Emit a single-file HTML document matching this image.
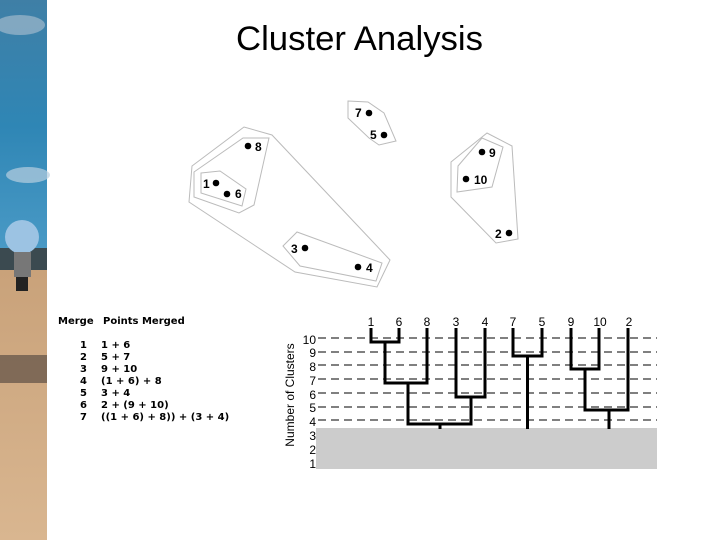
<!DOCTYPE html>
<html><head><meta charset="utf-8"><style>
html,body{margin:0;padding:0;background:#fff;}
svg{display:block;}
</style></head><body>
<svg width="720" height="540" viewBox="0 0 720 540" xmlns="http://www.w3.org/2000/svg" font-family="Liberation Sans, sans-serif">
<defs>
<linearGradient id="sky" x1="0" y1="0" x2="0" y2="1">
<stop offset="0" stop-color="#3f7fa6"/><stop offset="0.5" stop-color="#2f86b5"/><stop offset="1" stop-color="#4a9ac6"/>
</linearGradient>
<linearGradient id="sand" x1="0" y1="0" x2="0" y2="1">
<stop offset="0" stop-color="#c9a27a"/><stop offset="1" stop-color="#d9b690"/>
</linearGradient>
</defs>
<rect x="0" y="0" width="47" height="252" fill="url(#sky)"/>
<ellipse cx="20" cy="25" rx="25" ry="10" fill="#9fb9cc" opacity="0.7"/>
<ellipse cx="28" cy="175" rx="22" ry="8" fill="#b8cfe0" opacity="0.7"/>
<rect x="0" y="248" width="47" height="22" fill="#3b4a50"/>
<rect x="0" y="270" width="47" height="270" fill="url(#sand)"/>
<rect x="0" y="355" width="47" height="28" fill="#6b5a4c" opacity="0.8"/>
<circle cx="22" cy="237" r="17" fill="#9cc3e3"/>
<rect x="14" y="252" width="17" height="25" fill="#777"/>
<rect x="16" y="277" width="12" height="14" fill="#222"/>

<text x="236" y="50" font-size="34" textLength="247" lengthAdjust="spacingAndGlyphs">Cluster Analysis</text>

<g fill="none" stroke="#bbb" stroke-width="1">
<polygon points="348,101 368,102 384,113 396,141 379,145 369,138 348,118"/>
<polygon points="201,173 220,171 246,189 242,206 201,193"/>
<polygon points="194,172 243,138 269,138 254,205 239,213 194,197"/>
<polygon points="192,166 244,127 272,135 390,260 377,287 295,272 189,202"/>
<polygon points="283,246 297,232 382,263 376,281 300,266"/>
<polygon points="458,166 482,138 503,147 492,187 457,192"/>
<polygon points="451,162 487,133 512,146 518,239 496,243 451,197"/>
</g>
<g fill="#000">
<circle cx="369" cy="113" r="3.3"/><circle cx="384" cy="135" r="3.3"/>
<circle cx="248" cy="146" r="3.3"/><circle cx="216" cy="183" r="3.3"/>
<circle cx="227" cy="194" r="3.3"/><circle cx="482" cy="152" r="3.3"/>
<circle cx="466" cy="179" r="3.3"/><circle cx="509" cy="233" r="3.3"/>
<circle cx="305" cy="248" r="3.3"/><circle cx="358" cy="267" r="3.3"/>
</g>
<g font-size="12" font-weight="bold" fill="#000">
<text x="355" y="117">7</text><text x="370" y="139">5</text>
<text x="255" y="151">8</text><text x="203" y="188">1</text>
<text x="235" y="198">6</text><text x="489" y="157">9</text>
<text x="474" y="184">10</text><text x="495" y="238">2</text>
<text x="291" y="253">3</text><text x="366" y="272">4</text>
</g>

<g font-size="10" font-weight="bold" font-family="DejaVu Sans, sans-serif" fill="#000">
<text x="58" y="324">Merge</text><text x="103" y="324">Points Merged</text>
<text x="80" y="348">1</text><text x="101" y="348">1 + 6</text>
<text x="80" y="360">2</text><text x="101" y="360">5 + 7</text>
<text x="80" y="372">3</text><text x="101" y="372">9 + 10</text>
<text x="80" y="384">4</text><text x="101" y="384">(1 + 6) + 8</text>
<text x="80" y="396">5</text><text x="101" y="396">3 + 4</text>
<text x="80" y="408">6</text><text x="101" y="408">2 + (9 + 10)</text>
<text x="80" y="420">7</text><text x="101" y="420">((1 + 6) + 8)) + (3 + 4)</text>
</g>

<rect x="316" y="428" width="341" height="41" fill="#cccccc"/>
<g stroke="#000" stroke-width="1" stroke-dasharray="8,5">
<line x1="318" y1="338" x2="657" y2="338"/><line x1="318" y1="352" x2="657" y2="352"/>
<line x1="318" y1="365" x2="657" y2="365"/><line x1="318" y1="379" x2="657" y2="379"/>
<line x1="318" y1="393" x2="657" y2="393"/><line x1="318" y1="407" x2="657" y2="407"/>
<line x1="318" y1="420" x2="657" y2="420"/>
</g>
<g font-size="12" fill="#000" text-anchor="end">
<text x="316" y="344">10</text><text x="316" y="357">9</text><text x="316" y="371">8</text>
<text x="316" y="385">7</text><text x="316" y="399">6</text><text x="316" y="412">5</text>
<text x="316" y="426">4</text><text x="316" y="440">3</text><text x="316" y="454">2</text>
<text x="316" y="468">1</text>
</g>
<text transform="translate(294,395) rotate(-90)" font-size="12" text-anchor="middle">Number of Clusters</text>

<g font-size="12" fill="#000" text-anchor="middle">
<text x="371" y="326">1</text><text x="399" y="326">6</text><text x="427" y="326">8</text>
<text x="456" y="326">3</text><text x="485" y="326">4</text><text x="513" y="326">7</text>
<text x="542" y="326">5</text><text x="571" y="326">9</text><text x="600" y="326">10</text>
<text x="629" y="326">2</text>
</g>
<g fill="none" stroke="#000" stroke-width="3">
<polyline points="371,328 371,342 399,342 399,328"/>
<polyline points="385,342 385,383 427,383 427,328"/>
<polyline points="456,328 456,397 485,397 485,328"/>
<polyline points="408,383 408,424 471,424 471,397"/>
<line x1="440" y1="424" x2="440" y2="429"/>
<polyline points="513,328 513,356 542,356 542,328"/>
<line x1="527.5" y1="356" x2="527.5" y2="429"/>
<polyline points="571,328 571,369 599,369 599,328"/>
<polyline points="585,369 585,410 628,410 628,328"/>
<line x1="609" y1="410" x2="609" y2="429"/>
</g>
</svg>
</body></html>
